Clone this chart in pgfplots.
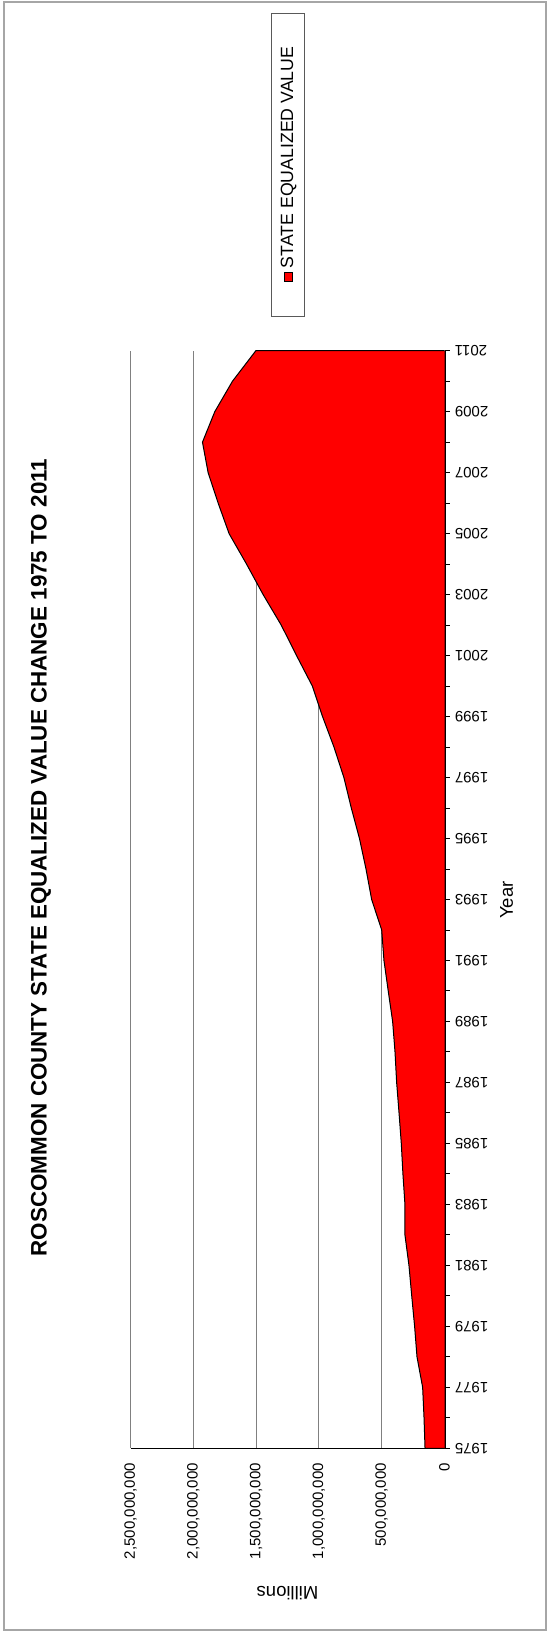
\documentclass[border=0pt]{standalone}
\usepackage{fontspec}
\setmainfont{Liberation Sans}
\usepackage{pgfplots}
\usepackage{pgfplotstable}
\pgfplotsset{compat=1.18}

% State equalized value, Roscommon County (dollars); the zero rows close the area on the axis
\pgfplotstableread{
year value
1975 0
1975 155000000
1976 163000000
1977 174000000
1978 219000000
1979 238000000
1980 261000000
1981 283000000
1982 315000000
1983 315000000
1984 331000000
1985 344000000
1986 362000000
1987 381000000
1988 394000000
1989 413000000
1990 448000000
1991 482000000
1992 500000000
1993 580000000
1994 625000000
1995 677000000
1996 742000000
1997 801000000
1998 880000000
1999 971000000
2000 1052000000
2001 1178000000
2002 1300000000
2003 1444000000
2004 1576000000
2005 1715000000
2006 1802000000
2007 1882000000
2008 1927000000
2009 1829000000
2010 1688000000
2011 1502000000
2011 0
}\sevdata

\begin{document}
\begin{tikzpicture}
% page frame
\path[use as bounding box] (0,0) rectangle (274.5pt,-816.5pt);
\draw[gray!70, line width=1pt] (1.75pt,-1pt) rectangle (272.75pt,-815pt);

\begin{axis}[
  at={(222.25pt,-724.15pt)}, anchor=south east,
  scale only axis, width=157pt, height=548.8pt,
  x dir=reverse,
  xmin=0, xmax=2.5e9, ymin=1975, ymax=2011,
  axis x line*=bottom, axis y line*=right,
  x axis line style={black, line width=0.75pt},
  y axis line style={black, line width=1pt},
  scaled x ticks=false,
  /pgf/number format/assume math mode=true,
  xtick={0,500000000,1000000000,1500000000,2000000000,2500000000},
  xticklabels={0,{500,000,000},{1,000,000,000},{1,500,000,000},{2,000,000,000},{2,500,000,000}},
  x tick label style={rotate=90, anchor=east, inner ysep=0pt, inner xsep=4.7pt, font=\fontsize{7.5}{9}\selectfont},
  xtick style={draw=none},
  xmajorgrids, grid style={gray, line width=0.5pt},
  ytick={1975,1977,...,2011},
  minor ytick={1976,1978,...,2010},
  y tick label style={rotate=180, anchor=east, inner ysep=0pt, inner xsep=2.5pt, font=\fontsize{7.5}{9}\selectfont,
    /pgf/number format/set thousands separator={}},
  ytick style={black, line width=0.5pt},
  tick align=outside, major tick length=2.5pt, minor tick length=2.5pt,
  clip=false,
]
\addplot[fill=red, draw=black, line width=0.5pt] table[x=value, y=year] {\sevdata};
\end{axis}

% title and axis titles
\node[rotate=90, font=\bfseries\fontsize{11.2}{13}\selectfont] at (20.5pt,-428.75pt)
  {ROSCOMMON COUNTY STATE EQUALIZED VALUE CHANGE 1975 TO 2011};
\node[rotate=180, font=\fontsize{9.25}{11}\selectfont] at (143.75pt,-796.5pt) {Millions};
\node[rotate=90, font=\fontsize{9.25}{11}\selectfont] at (253.35pt,-450pt) {Year};

% legend
\draw[gray!70!black, line width=0.5pt] (135.85pt,-6.65pt) rectangle (152.35pt,-158pt);
\draw[black, line width=0.4pt, fill=red] (142.15pt,-136.35pt) rectangle (146.15pt,-140.85pt);
\node[rotate=90, anchor=west, inner sep=0pt, font=\fontsize{8.85}{10}\selectfont] at (144.25pt,-134.2pt)
  {STATE EQUALIZED VALUE};
\end{tikzpicture}
\end{document}
